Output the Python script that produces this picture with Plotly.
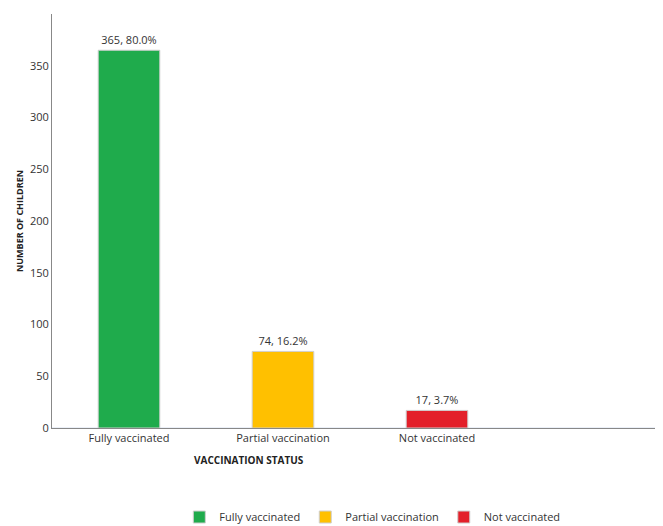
import plotly.graph_objects as go

categories = ['Fully vaccinated', 'Partial vaccination', 'Not vaccinated']
counts = [365, 74, 17]
percents = [80.0, 16.2, 3.7]
colors = ['#1fab4c', '#ffc000', '#e3202a']
y_ticks = [0, 50, 100, 150, 200, 250, 300, 350, 400]

fig = go.Figure()
for i, (cat, n, p, c) in enumerate(zip(categories, counts, percents, colors)):
    fig.add_trace(go.Bar(
        x=[i], y=[n], name=cat, width=0.4,
        marker=dict(color=c, line=dict(color='#cfcfcf', width=1)),
        text=[f'{n}, {p:.1f}%'], textposition='outside',
        textfont=dict(size=11, color='#333333'), cliponaxis=False))

fig.update_xaxes(range=[-0.5, 3.5], tickvals=[0, 1, 2], ticktext=categories,
                 showline=True, linecolor='#888888', showgrid=False, ticks='',
                 tickfont=dict(size=11, color='#333333'))
fig.update_yaxes(range=[0, 400], tickvals=y_ticks, showline=True, linecolor='#888888',
                 showgrid=False, ticks='', 
                 tickfont=dict(size=11, color='#333333'),
                 title=dict(text='<b>NUMBER OF CHILDREN</b>', font=dict(size=9, color='#222222'),
                            standoff=4))

# x title sits left of centre in the original
fig.add_annotation(text='<b>VACCINATION STATUS</b>', xref='paper', yref='paper',
                   x=0.32, y=-0.055, xanchor='center', yanchor='top', showarrow=False,
                   font=dict(size=10, color='#222222'))

fig.update_layout(
    width=663, height=526, template='plotly_white',
    font=dict(family='Open Sans, sans-serif'),
    margin=dict(l=44, r=3, t=6, b=93),
    bargap=0.6,
    legend=dict(orientation='h', x=0.52, xanchor='center', y=-0.18, yanchor='top',
                font=dict(size=11, color='#333333'), itemwidth=30, tracegroupgap=0),
    paper_bgcolor='white', plot_bgcolor='white')

fig.write_html('out.html')
